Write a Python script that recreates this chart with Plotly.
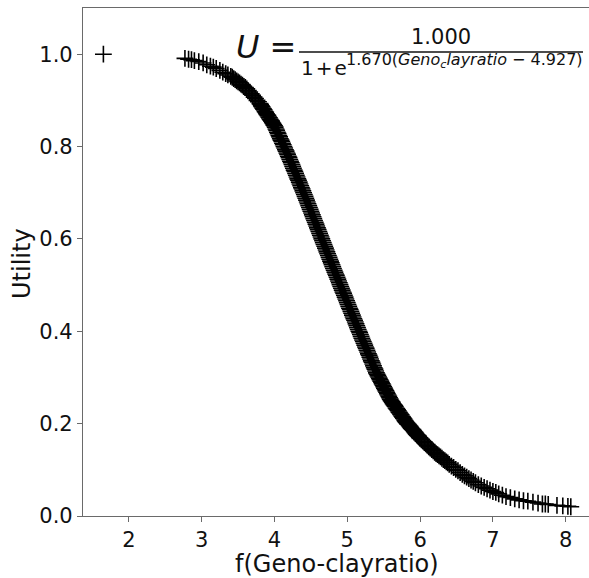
import plotly.graph_objects as go

# Utility points against the transformed clay-ratio score
geno_clayratio = [
    1.65,
    2.77, 2.82, 2.86, 2.90, 2.96, 3.02, 3.07, 3.12, 3.16, 3.20,
    3.25, 3.29, 3.33, 3.36,
    3.40, 3.42, 3.44, 3.46, 3.48, 3.50, 3.52, 3.54, 3.56, 3.58,
    3.60, 3.62, 3.64, 3.66, 3.68, 3.70, 3.72, 3.74, 3.76, 3.78,
    3.80, 3.81, 3.82, 3.83, 3.84, 3.85, 3.86, 3.87, 3.88, 3.89,
    3.90, 3.91, 3.92, 3.93, 3.94, 3.95, 3.96, 3.97, 3.98, 3.99,
    4.00, 4.01, 4.02, 4.03, 4.04, 4.05, 4.06, 4.07, 4.08, 4.09,
    4.10, 4.11, 4.12, 4.13, 4.14, 4.15, 4.16, 4.17, 4.18, 4.19,
    4.20, 4.21, 4.22, 4.23, 4.24, 4.25, 4.26, 4.27, 4.28, 4.29,
    4.30, 4.31, 4.32, 4.33, 4.34, 4.35, 4.36, 4.37, 4.38, 4.39,
    4.40, 4.41, 4.42, 4.43, 4.44, 4.45, 4.46, 4.47, 4.48, 4.49,
    4.50, 4.51, 4.52, 4.53, 4.54, 4.55, 4.56, 4.57, 4.58, 4.59,
    4.60, 4.61, 4.62, 4.63, 4.64, 4.65, 4.66, 4.67, 4.68, 4.69,
    4.70, 4.71, 4.72, 4.73, 4.74, 4.75, 4.76, 4.77, 4.78, 4.79,
    4.80, 4.81, 4.82, 4.83, 4.84, 4.85, 4.86, 4.87, 4.88, 4.89,
    4.90, 4.91, 4.92, 4.93, 4.94, 4.95, 4.96, 4.97, 4.98, 4.99,
    5.00, 5.01, 5.02, 5.03, 5.04, 5.05, 5.06, 5.07, 5.08, 5.09,
    5.10, 5.11, 5.12, 5.13, 5.14, 5.15, 5.16, 5.17, 5.18, 5.19,
    5.20, 5.21, 5.22, 5.23, 5.24, 5.25, 5.26, 5.27, 5.28, 5.29,
    5.30, 5.31, 5.32, 5.33, 5.34, 5.35, 5.36, 5.37, 5.38, 5.39,
    5.40, 5.41, 5.42, 5.43, 5.44, 5.45, 5.46, 5.47, 5.48, 5.49,
    5.50, 5.51, 5.52, 5.53, 5.54, 5.55, 5.56, 5.57, 5.58, 5.59,
    5.60, 5.61, 5.62, 5.63, 5.64, 5.65, 5.66, 5.67, 5.68, 5.69,
    5.70, 5.71, 5.72, 5.73, 5.74, 5.75, 5.76, 5.77, 5.78, 5.79,
    5.80, 5.81, 5.82, 5.83, 5.84, 5.85, 5.86, 5.87, 5.88, 5.89,
    5.90, 5.91, 5.92, 5.93, 5.94, 5.95, 5.96, 5.97, 5.98, 5.99,
    6.00, 6.02, 6.04, 6.06, 6.08, 6.10, 6.12, 6.14, 6.16, 6.18,
    6.20, 6.22, 6.24, 6.26, 6.28, 6.30, 6.32, 6.34, 6.36, 6.38,
    6.40, 6.43, 6.46, 6.49, 6.52, 6.55, 6.58, 6.61, 6.64, 6.67,
    6.70, 6.73, 6.76, 6.80, 6.84, 6.88, 6.92, 6.96, 7.00,
    7.04, 7.08, 7.13, 7.18, 7.24, 7.30, 7.36, 7.42, 7.48, 7.55,
    7.62, 7.68, 7.72, 7.76, 7.88, 7.96, 8.03, 8.07,
]
utility = [
    1.000,
    0.991, 0.989, 0.988, 0.986, 0.984, 0.981, 0.977, 0.974, 0.972, 0.969,
    0.965, 0.961, 0.958, 0.955,
    0.952, 0.950, 0.947, 0.945, 0.942, 0.940, 0.938, 0.935, 0.933, 0.930,
    0.928, 0.925, 0.921, 0.918, 0.914, 0.911, 0.907, 0.904, 0.900, 0.897,
    0.893, 0.891, 0.888, 0.886, 0.883, 0.881, 0.879, 0.876, 0.874, 0.871,
    0.869, 0.867, 0.864, 0.862, 0.859, 0.857, 0.855, 0.852, 0.850, 0.847,
    0.845, 0.842, 0.838, 0.835, 0.831, 0.828, 0.824, 0.821, 0.817, 0.814,
    0.811, 0.807, 0.804, 0.800, 0.797, 0.793, 0.790, 0.786, 0.783, 0.779,
    0.776, 0.772, 0.768, 0.765, 0.761, 0.757, 0.753, 0.749, 0.746, 0.742,
    0.738, 0.734, 0.730, 0.727, 0.723, 0.719, 0.715, 0.711, 0.708, 0.704,
    0.700, 0.696, 0.692, 0.688, 0.684, 0.680, 0.676, 0.672, 0.668, 0.664,
    0.660, 0.656, 0.652, 0.648, 0.644, 0.640, 0.636, 0.632, 0.628, 0.624,
    0.620, 0.616, 0.612, 0.608, 0.604, 0.600, 0.596, 0.592, 0.588, 0.584,
    0.580, 0.576, 0.572, 0.568, 0.564, 0.560, 0.556, 0.552, 0.548, 0.544,
    0.540, 0.536, 0.532, 0.528, 0.524, 0.521, 0.517, 0.513, 0.509, 0.505,
    0.501, 0.497, 0.493, 0.489, 0.485, 0.482, 0.478, 0.474, 0.470, 0.466,
    0.462, 0.458, 0.454, 0.450, 0.447, 0.443, 0.439, 0.435, 0.431, 0.427,
    0.424, 0.420, 0.416, 0.412, 0.408, 0.404, 0.400, 0.397, 0.393, 0.389,
    0.385, 0.381, 0.378, 0.374, 0.370, 0.366, 0.363, 0.359, 0.355, 0.351,
    0.348, 0.344, 0.340, 0.336, 0.333, 0.329, 0.325, 0.321, 0.318, 0.314,
    0.310, 0.307, 0.304, 0.301, 0.298, 0.295, 0.292, 0.289, 0.286, 0.283,
    0.280, 0.277, 0.274, 0.271, 0.268, 0.265, 0.262, 0.259, 0.256, 0.253,
    0.250, 0.248, 0.246, 0.243, 0.241, 0.239, 0.237, 0.234, 0.232, 0.230,
    0.228, 0.225, 0.223, 0.221, 0.219, 0.216, 0.214, 0.212, 0.210, 0.207,
    0.205, 0.203, 0.201, 0.199, 0.198, 0.196, 0.194, 0.192, 0.190, 0.188,
    0.187, 0.185, 0.183, 0.181, 0.179, 0.177, 0.175, 0.174, 0.172, 0.170,
    0.168, 0.165, 0.162, 0.159, 0.156, 0.153, 0.150, 0.147, 0.144, 0.141,
    0.138, 0.135, 0.133, 0.130, 0.128, 0.125, 0.122, 0.120, 0.117, 0.115,
    0.112, 0.108, 0.105, 0.101, 0.098, 0.094, 0.090, 0.087, 0.084, 0.081,
    0.078, 0.075, 0.072, 0.068, 0.065, 0.062, 0.059, 0.056, 0.053,
    0.051, 0.048, 0.045, 0.042, 0.040, 0.037, 0.035, 0.033, 0.032, 0.030,
    0.028, 0.026, 0.026, 0.025, 0.023, 0.022, 0.021, 0.020,
]

x_ticks = [2, 3, 4, 5, 6, 7, 8]
y_ticks = [0.0, 0.2, 0.4, 0.6, 0.8, 1.0]

W, H = 589, 578
ML, MR, MT, MB = 83, 0, 8, 62
PW, PH = W - ML - MR, H - MT - MB
FONT = "DejaVu Sans"
INK = "#111111"
SPINE = "#6a6a6a"


def px(x):
    return (x - ML) / PW


def py(y):
    return (H - MB - y) / PH


fig = go.Figure()
fig.add_trace(go.Scatter(
    x=geno_clayratio, y=utility, mode="markers",
    marker=dict(symbol="cross-thin", size=12, color="black",
                line=dict(color="black", width=1.6)),
    showlegend=False, hoverinfo="skip",
))

annotations = [
    # axis titles
    dict(text="f(Geno-clayratio)", x=px(337), y=py(564), xanchor="center",
         yanchor="middle", font=dict(size=24)),
    dict(text="Utility", x=px(22), y=py(264), xanchor="center",
         yanchor="middle", textangle=-90, font=dict(size=24)),
    # fitted curve equation
    dict(text="<i>U</i> =", x=px(234), y=py(47), xanchor="left",
         yanchor="middle", font=dict(size=32)),
    dict(text="1.000", x=px(441), y=py(37), xanchor="center",
         yanchor="middle", font=dict(size=21)),
    dict(text="1\u200a+\u200ae", x=px(299), y=py(68), xanchor="left",
         yanchor="middle", font=dict(size=20)),
    dict(text="1.670(<i>Geno<sub>c</sub>layratio</i> \u2212 4.927)",
         x=px(344), y=py(60), xanchor="left", yanchor="middle",
         font=dict(size=16)),
]
for a in annotations:
    a.update(xref="paper", yref="paper", showarrow=False)
    a["font"].update(family=FONT, color=INK)

fig.update_layout(
    width=W, height=H,
    margin=dict(l=ML, r=MR, t=MT, b=MB, pad=0),
    paper_bgcolor="white", plot_bgcolor="white",
    font=dict(family=FONT, color=INK, size=21),
    annotations=annotations,
    shapes=[dict(type="line", xref="paper", yref="paper",
                 x0=px(299), x1=px(583), y0=py(52), y1=py(52),
                 line=dict(color=INK, width=1.6))],
    xaxis=dict(range=[1.37, 8.32], tickvals=x_ticks,
               ticktext=[str(t) for t in x_ticks],
               showgrid=False, zeroline=False,
               showline=True, mirror=True, linecolor=SPINE, linewidth=1.2,
               ticks="outside", ticklen=5, tickcolor=SPINE, tickwidth=1.2,
               tickfont=dict(size=21)),
    yaxis=dict(range=[0, 1.1], tickvals=y_ticks,
               ticktext=[f"{t:.1f}" for t in y_ticks],
               showgrid=False, zeroline=False,
               showline=True, mirror=False, linecolor=SPINE, linewidth=1.2,
               ticks="outside", ticklen=5, tickcolor=SPINE, tickwidth=1.2,
               tickfont=dict(size=21)),
)

fig.write_html("out.html")
